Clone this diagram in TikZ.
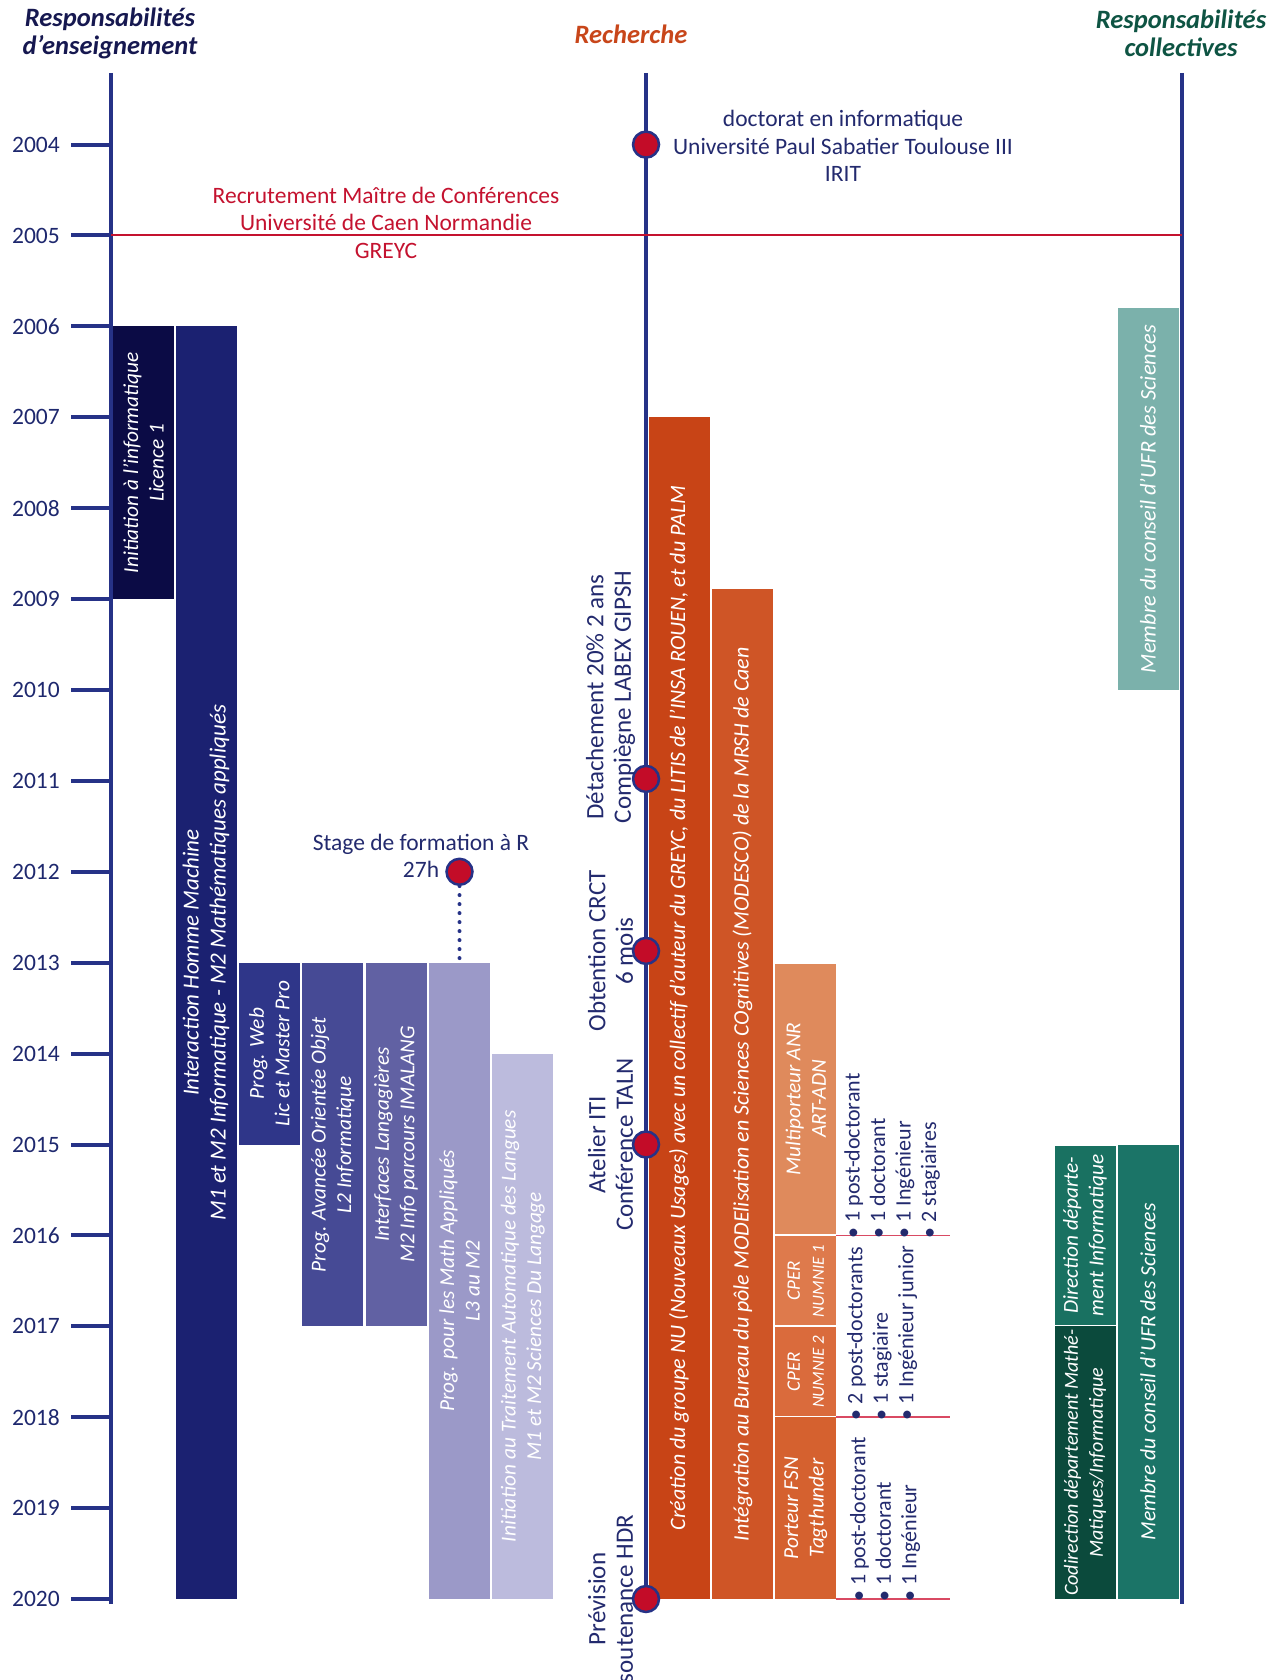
\documentclass[tikz,border=0pt]{standalone}
\usepackage{fontspec}
\setmainfont{Carlito}
\usepackage{tikz}
\usetikzlibrary{positioning}
\definecolor{axisblue}{RGB}{38,50,135}
\definecolor{yearblue}{RGB}{30,40,110}
\definecolor{textblue}{RGB}{35,42,110}
\definecolor{headblue}{RGB}{22,24,80}
\definecolor{headorange}{RGB}{200,70,26}
\definecolor{headgreen}{RGB}{14,84,67}
\definecolor{recred}{RGB}{196,18,47}
\definecolor{dotred}{RGB}{195,12,40}
\definecolor{listred}{RGB}{217,74,99}
\definecolor{ens1}{RGB}{11,11,69}
\definecolor{ens2}{RGB}{27,33,113}
\definecolor{ens3}{RGB}{47,54,137}
\definecolor{ens4}{RGB}{70,74,149}
\definecolor{ens5}{RGB}{97,97,163}
\definecolor{ens6}{RGB}{155,153,200}
\definecolor{ens7}{RGB}{188,187,221}
\definecolor{rech1}{RGB}{200,68,22}
\definecolor{rech2}{RGB}{207,85,38}
\definecolor{rech3}{RGB}{223,138,92}
\definecolor{rech4}{RGB}{222,122,76}
\definecolor{rech5}{RGB}{218,107,60}
\definecolor{rech6}{RGB}{213,97,47}
\definecolor{coll1}{RGB}{123,177,171}
\definecolor{coll2}{RGB}{27,116,103}
\definecolor{coll3}{RGB}{25,113,97}
\definecolor{coll4}{RGB}{11,74,60}
\newcommand{\yrpos}[1]{144.6+(#1-2004)*90.9}
\tikzstyle{tlaxis} = [draw=axisblue, line width=4pt]
\tikzstyle{yeartick} = [draw=axisblue, line width=4pt]
\tikzstyle{yearlbl} = [text=yearblue, anchor=east, inner sep=0pt, font=\fontsize{23.5}{26}\selectfont]
\tikzstyle{head} = [align=center, inner sep=0pt, font=\bfseries\itshape\fontsize{26.5}{28}\selectfont]
\tikzstyle{note} = [text=textblue, align=center, inner sep=0pt, font=\fontsize{23.5}{27.5}\selectfont]
\tikzstyle{vnote} = [note, rotate=90, font=\fontsize{25}{27.5}\selectfont]
\tikzstyle{event} = [circle, draw=axisblue, line width=2.5pt, fill=dotred, minimum size=26pt, inner sep=0pt]
\tikzstyle{bar} = [rotate=90, text=white, align=center, inner sep=0pt, minimum height=61pt, font=\itshape\fontsize{21.3}{25.5}\selectfont]
\tikzstyle{list} = [rotate=90, anchor=west, text=textblue, align=left, inner sep=0pt, font=\fontsize{22}{25.5}\selectfont]
\tikzstyle{recline} = [draw=recred, line width=2pt]
\tikzstyle{redline} = [draw=listred, line width=1.5pt]
\tikzstyle{dotline} = [draw=axisblue, line width=4pt, line cap=round, dash pattern=on 0pt off 9pt]

\begin{document}
\begin{tikzpicture}[x=1pt, y=-1pt]
\useasboundingbox (0,0) rectangle (1279,1680);

% headings =============================
\node[head, text=headblue] (hens) at (110,33) {Responsabilités\\d'enseignement};
\node[head, text=headorange] (hrech) at (631,34) {Recherche};
\node[head, text=headgreen] (hcoll) at (1181,33) {Responsabilités\\collectives};

% axes
\coordinate (enstop) at (111,73);
\coordinate (ensbot) at (111,1604);
\coordinate (rechtop) at (646,73);
\coordinate (rechbot) at (646,{\yrpos{2020}});
\coordinate (colltop) at (1181.5,73);
\coordinate (collbot) at (1181.5,1604);
\draw[tlaxis] (enstop) -- (ensbot);
\draw[tlaxis] (rechtop) -- (rechbot);
\draw[tlaxis] (colltop) -- (collbot);

% years
\foreach \y in {2004,...,2020} {
  \draw[yeartick] (71,{\yrpos{\y}}) -- (111,{\yrpos{\y}});
  \node[yearlbl] (y\y) at (60,{\yrpos{\y}}) {\y};
}

% recruitment
\coordinate (recl) at (111,{\yrpos{2005}});
\coordinate (recr) at (1181.5,{\yrpos{2005}});
\draw[recline] (recl) -- (recr);
\node[note, text=recred] (recrut) at (386,{\yrpos{2005}-13}) {Recrutement Maître de Conférences\\Université de Caen Normandie\\GREYC};
\node[note] (doct) at (843,146) {doctorat en informatique\\Université Paul Sabatier Toulouse III\\IRIT};

% teaching =============================
\node[bar, fill=ens1, minimum width=3*90.9pt] (initinfo) at (143.5,{\yrpos{2007.5}}) {Initiation à l'informatique\\Licence 1};
\node[bar, fill=ens2, minimum width=14*90.9pt, font=\itshape\fontsize{23}{27}\selectfont] (ihm) at (206,{\yrpos{2013}}) {Interaction Homme Machine\\M1 et M2 Informatique - M2 Mathématiques appliqués};
\node[bar, fill=ens3, minimum width=2*90.9pt] (progweb) at (269.3,{\yrpos{2014}}) {Prog. Web\\Lic et Master Pro};
\node[bar, fill=ens4, minimum width=4*90.9pt] (progobj) at (332.7,{\yrpos{2015}}) {Prog. Avancée Orientée Objet\\L2 Informatique};
\node[bar, fill=ens5, minimum width=4*90.9pt] (interf) at (396.1,{\yrpos{2015}}) {Interfaces Langagières\\M2 Info parcours IMALANG};
\node[bar, fill=ens6, minimum width=7*90.9pt] (progmath) at (459.5,{\yrpos{2016.5}}) {Prog. pour les Math Appliqués\\L3 au M2};
\node[bar, fill=ens7, minimum width=6*90.9pt] (inittal) at (522.9,{\yrpos{2017}}) {Initiation au Traitement Automatique des Langues\\M1 et M2 Sciences Du Langage};

% stage
\node[event] (stage) at (459.5,{\yrpos{2012}}) {};
\node[note] (stagetxt) at (421,856) {Stage de formation à R\\27h};
\draw[dotline] (stage.south) -- (progmath.east);

% research =============================
\node[bar, fill=rech1, minimum width=13*90.9pt, font=\itshape\fontsize{22}{25}\selectfont] (nu) at (679,{\yrpos{2013.5}}) {Création du groupe NU (Nouveaux Usages) avec un collectif d'auteur du GREYC, du LITIS de l'INSA ROUEN, et du PALM};
\node[bar, fill=rech2, minimum width=11.11*90.9pt, font=\itshape\fontsize{22}{25}\selectfont] (modesco) at (742.4,{\yrpos{2014.445}}) {Intégration au Bureau du pôle MODElisation en Sciences COgnitives (MODESCO) de la MRSH de Caen};
\node[bar, fill=rech3, minimum width=3*90.9pt-2pt] (anr) at (805.8,{\yrpos{2014.5}}) {Multiporteur ANR\\ART-ADN};
\node[bar, fill=rech4, minimum width=90.9pt-2pt, font=\itshape\fontsize{19}{24}\selectfont] (cper1) at (805.8,{\yrpos{2016.5}}) {CPER\\{\fontsize{17}{20}\selectfont NUMNIE 1}};
\node[bar, fill=rech5, minimum width=90.9pt-2pt, font=\itshape\fontsize{19}{24}\selectfont] (cper2) at (805.8,{\yrpos{2017.5}}) {CPER\\{\fontsize{17}{20}\selectfont NUMNIE 2}};
\node[bar, fill=rech6, minimum width=2*90.9pt] (fsn) at (805.8,{\yrpos{2019}}) {Porteur FSN\\Tagthunder};

% staff lists
\coordinate (la) at (836,{\yrpos{2016}});
\coordinate (lb) at (836,{\yrpos{2018}});
\coordinate (lc) at (836,{\yrpos{2020}});
\draw[redline] (la) -- ++(114,0);
\draw[redline] (lb) -- ++(114,0);
\draw[redline] (lc) -- ++(114,0);
\node[list] (lista) at (892,{\yrpos{2016}+3}) {• 1 post-doctorant\\• 1 doctorant\\• 1 Ingénieur\\• 2 stagiaires};
\node[list] (listb) at (882,{\yrpos{2018}+3}) {• 2 post-doctorants\\• 1 stagiaire\\• 1 Ingénieur junior};
\node[list] (listc) at (885,{\yrpos{2020}+3}) {• 1 post-doctorant\\• 1 doctorant\\• 1 Ingénieur};

% events
\node[event] (ev2004) at (646,{\yrpos{2004}}) {};
\node[event] (ev2011) at (646,{\yrpos{2011}-2}) {};
\node[event] (ev2013) at (646,{\yrpos{2012.87}}) {};
\node[event] (ev2015) at (646,{\yrpos{2015}}) {};
\node[event] (ev2020) at (646,{\yrpos{2020}}) {};
\node[vnote] (detach) at (610.5,697) {Détachement 20\% 2 ans\\Compiègne LABEX GIPSH};
\node[vnote] (crct) at (610.5,{\yrpos{2012.87}}) {Obtention CRCT\\6 mois};
\node[vnote] (taln) at (610.5,{\yrpos{2015}}) {Atelier ITI\\Conférence TALN};
\node[vnote] (hdr) at (610.5,{\yrpos{2020}}) {Prévision\\soutenance HDR};

% collective =============================
\node[bar, fill=coll1, minimum width=4.2*90.9pt, font=\itshape\fontsize{22.4}{25}\selectfont] (ufr1) at (1148,{\yrpos{2007.9}}) {Membre du conseil d'UFR des Sciences};
\node[bar, fill=coll2, minimum width=5*90.9pt, font=\itshape\fontsize{21.7}{25}\selectfont] (ufr2) at (1148,{\yrpos{2017.5}}) {Membre du conseil d'UFR des Sciences};
\node[bar, fill=coll3, minimum width=2*90.9pt-2pt] (dirinfo) at (1085,{\yrpos{2016}}) {Direction départe-\\ment Informatique};
\node[bar, fill=coll4, minimum width=3*90.9pt, font=\itshape\fontsize{20}{25}\selectfont] (codir) at (1085,{\yrpos{2018.5}}) {Codirection département Mathé-\\Matiques/Informatique};

\end{tikzpicture}
\end{document}
